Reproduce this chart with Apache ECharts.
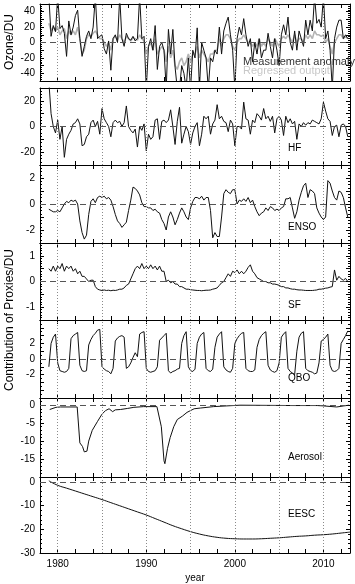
<!DOCTYPE html>
<html>
<head>
<meta charset="utf-8">
<script src="https://cdn.jsdelivr.net/npm/echarts@6/dist/echarts.min.js"></script>
<style>
html, body { margin: 0; padding: 0; background: #fff; }
#chart { width: 355px; height: 584px; }
</style>
</head>
<body>
<div id="chart"></div>
<script>
// quarterly samples, first one at 1979.0
var startYear = 1979;
var step = 0.25;

var ozoneMeasured = [
  60, 8, 22, 14,      // 1979
  60, 18, 22, 12,     // 1980
  -18, 28, 10, 20,    // 1981
  35, 42, 5, -18,     // 1982
  -5, 8, 15, 5,       // 1983
  20, 60, 5, 8,       // 1984
  10, -8, -15, 2,     // 1985
  -36, 5, 10, 0,      // 1986
  60, 5, -5, 12,      // 1987
  5, 3, 8, 2,         // 1988
  5, 60, 5, 8,        // 1989
  -60, -5, 5, -10,    // 1990
  22, -35, -5, 0,     // 1991
  -10, -60, 17, -15,  // 1992
  17, -32, -60, -60,  // 1993
  -30, -40, -60, -20, // 1994
  -60, -10, -20, 19,  // 1995
  -60, 0, -10, -20,   // 1996
  -60, -20, -25, -10, // 1997
  -15, 20, -15, 15,   // 1998
  25, 33, 10, -10,    // 1999
  -60, 5, 20, 10,     // 2000
  31, 10, -5, 5,      // 2001
  -25, 0, -15, 5,     // 2002
  -20, -10, -10, 12,  // 2003
  -5, -20, 5, -10,    // 2004
  -30, 10, 23, 10,    // 2005
  33, 0, -10, 15,     // 2006
  -10, 15, 5, -5,     // 2007
  29, 10, 29, 15,     // 2008
  60, 25, 30, 20,     // 2009
  60, 5, 15, -10,     // 2010
  -60, 5, 20, 29,     // 2011
  29, 5, 10, 5        // 2012
];
var ozoneRegressed = [
  25, 15, 20, 15,
  20, 10, 15, 18,
  5, 15, 10, 15,
  10, 20, 5, -15,
  -10, 5, 10, 8,
  12, 15, 10, 5,
  5, 0, -5, 0,
  -10, 5, 8, 3,
  10, 5, 0, 8,
  5, 2, 6, 5,
  3, 10, 5, 2,
  -15, -5, 0, -10,
  5, -15, -10, -5,
  -10, -25, -5, -20,
  -10, -30, -35, -25,
  -20, -30, -25, -15,
  -25, -15, -15, -5,
  -20, -10, -15, -20,
  -25, -15, -15, -10,
  -10, 5, -5, 5,
  10, 10, 5, -5,
  -10, 0, 5, 5,
  10, 5, 0, 0,
  -5, 0, -5, 5,
  -5, 0, -5, 5,
  0, -5, 5, 0,
  -5, 5, 8, 5,
  10, 5, 0, 10,
  0, 5, 5, 0,
  10, 5, 10, 5,
  15, 10, 10, 8,
  10, 0, 5, -5,
  -15, 0, 5, 10,
  10, 5, 8, 5
];
var hf = [
  35, 10, 0, -5,
  5, -10, 0, -24,
  -10, -6, -3, 2,
  3, 6, 2, -15,
  -14, -8, -6, 3,
  5, 0, 4, -6,
  14, 6, 3, 0,
  -8, 3, 5, 3,
  4, 0, 3, 16,
  0, -3, -5, -2,
  -16, 0, -3, 2,
  -19, -6, -10, -8,
  5, 6, -10, 4,
  5, 3, 5, 13,
  0, -14, 4, 15,
  -13, -6, 0, -4,
  -14, -5, 0, 3,
  -15, -6, 8, 6,
  8, -6, 2, 5,
  17, 6, 8, 4,
  3, -4, 5, 2,
  -15, 0, 0, -2,
  19, 6, 5, -6,
  5, 3, 10, 8,
  5, 14, 6, 8,
  4, 8, -5, 6,
  8, 5, -7, 8,
  3, 6, 2, 4,
  -10, 2, 0, 3,
  1, 3, 2, 5,
  4, 3, 2, 6,
  19, 12, 6, 4,
  -7, 0, 1, -8,
  1, 2, 0, -8
];
var enso = [
  -0.4, -0.5, -0.6, -0.6,
  -0.5, -0.6, -0.3, 0.0,
  0.2, 0.1, 0.3, 0.2,
  0.3, 0.0, -1.3, -2.2,
  -2.7, -2.4, -0.8, 0.2,
  0.4, 0.1, 0.5, 0.6,
  0.5, 0.6, 0.4, 0.5,
  0.3, -0.2, -0.8, -1.3,
  -1.5, -1.8, -1.6, -1.4,
  -0.5, 0.3, 1.3, 1.2,
  1.0, 0.7, 0.1, -0.2,
  -0.2, -0.3, -0.3, -0.5,
  -0.4, -0.6, -0.7, -1.2,
  -1.5, -2.0, -1.0, -0.6,
  -1.0, -1.6, -1.2, -0.7,
  -0.3, -0.6, -1.0, -1.2,
  -0.3, 0.2, 0.5, 0.5,
  0.4, 0.6, 0.3, 0.5,
  0.5, -0.5, -2.6, -2.2,
  -2.5, -2.5, -1.0, 0.8,
  1.1, 0.9, 0.8, 1.1,
  1.1, 0.0, 0.3, 0.2,
  0.4, 0.2, 0.5, 0.1,
  0.3, -0.2, -0.6, -0.9,
  -0.7, -0.6, -0.3, -0.5,
  -0.2, -0.3, -0.5, -0.4,
  -0.5, -0.3, -0.2, 0.4,
  0.4, 0.5, -0.3, -1.1,
  -0.6, 0.3, 0.9, 1.4,
  1.6, 0.5, 1.1, 1.0,
  0.8, -0.3, -0.7, -1.0,
  -1.2, -1.0, 1.8, 1.6,
  1.0, 0.5, 0.3, 1.0,
  0.9, 0.5, -0.3, -1.0
];
var sf = [
  0.5, 0.4, 0.6, 0.4,
  0.6, 0.5, 0.7, 0.4,
  0.6, 0.5, 0.6, 0.4,
  0.5, 0.3, 0.4, 0.2,
  0.2, 0.1, 0.0, 0.05,
  0.05, -0.2, -0.3, -0.33,
  -0.35, -0.33, -0.35, -0.34,
  -0.36, -0.34, -0.35, -0.33,
  -0.3, -0.3, -0.25, -0.15,
  -0.1, 0.1, 0.3, 0.5,
  0.6, 0.5, 0.7, 0.5,
  0.6, 0.5, 0.65, 0.5,
  0.6, 0.45, 0.6, 0.4,
  0.4, 0.0, 0.05, -0.05,
  0.0, -0.1, -0.1, -0.2,
  -0.2, -0.25, -0.3, -0.3,
  -0.32, -0.33, -0.34, -0.35,
  -0.35, -0.36, -0.35, -0.34,
  -0.34, -0.33, -0.3, -0.28,
  -0.25, -0.15, -0.05, 0.0,
  0.15, 0.3, 0.2, 0.4,
  0.35, 0.45, 0.3, 0.4,
  0.3, 0.4, 0.55, 0.65,
  0.4, 0.3, 0.15, 0.1,
  0.05, 0.0, 0.0, -0.05,
  -0.05, -0.1, -0.1, -0.12,
  -0.15, -0.2, -0.2, -0.25,
  -0.25, -0.28, -0.3, -0.3,
  -0.32, -0.33, -0.33, -0.34,
  -0.35, -0.35, -0.35, -0.35,
  -0.34, -0.33, -0.3, -0.3,
  -0.28, -0.26, -0.25, -0.22,
  -0.2, 0.45, 0.05, 0.2,
  0.1, 0.05, 0.12, 0.0
];
var qbo = [
  -1.0, 2.0, 2.8, 3.2,
  -0.5, -1.5, -1.6, -1.7,
  -1.6, -1.2, 2.6, 3.0,
  3.2, 3.4, -0.8, -1.5,
  -1.6, -1.5, 1.8, 2.5,
  3.0, 3.3, 3.7, 3.8,
  -1.0, -1.3, -1.5, -1.6,
  -1.9, -1.2, 2.3, 2.7,
  2.9, 3.0, 2.8, -1.2,
  -1.0, -0.5, 0.2, 0.8,
  0.3, 3.2, 3.4, 3.5,
  -1.2, -1.6, -1.7, -1.6,
  -1.5, -1.0, 2.4, 2.7,
  3.0, 3.3, -1.5, -1.8,
  -1.6, -1.5, -1.3, -1.2,
  2.0, 3.0, 3.5, -1.0,
  -1.5, -1.6, -1.3, 2.0,
  2.8, 3.2, 3.4, -1.2,
  -1.5, -1.6, -1.3, 1.5,
  2.8, 3.2, 3.5, -1.0,
  -1.4, -1.6, -1.7, -1.2,
  2.0, 2.6, 3.0, 3.3,
  3.4, -1.2, -1.5, -1.6,
  -1.6, -1.4, 1.5, 2.5,
  3.0, 3.3, 3.5, -0.8,
  -1.4, -1.6, -1.7, -1.5,
  -0.5, 2.8, 3.2, 3.5,
  -1.2, -1.6, -1.8, -2.0,
  1.0, 2.8, 3.3, 3.5,
  -1.2, -1.5, -1.6, -1.7,
  -1.9, -1.8, -0.5, 2.3,
  2.5, 2.8, 3.2, -0.8,
  -1.5, -1.6, -1.5, -1.2,
  2.0, 2.5, 3.0, 3.6
];
var aerosolYears = [1979.1, 1979.8, 1980.3, 1981.5, 1982.2, 1982.3, 1982.5, 1982.8, 1983.0, 1983.3, 1983.5, 1983.9,
  1984.5, 1985.0, 1985.4, 1985.8, 1986.2, 1986.5, 1987.1, 1987.9, 1988.6, 1989.7, 1991.2, 1991.4, 1991.7,
  1992.0, 1992.1, 1992.4, 1992.7, 1993.1, 1993.5, 1994.1, 1994.6, 1995.4, 1996.1, 1997.6, 1999.1, 2000.6,
  2003.6, 2006.5, 2009.3, 2010.0, 2011.5, 2012.3, 2012.9];
var aerosol = [-1.2, -0.6, -0.5, -0.5, -0.5, -0.6, -10.5, -11.5, -13, -12.8, -10, -7,
  -4.5, -2.5, -1.5, -1.0, -1.8, -1.3, -1.2, -0.9, -0.6, -0.4, -0.4, -0.5, -6,
  -15.5, -16.3, -12, -9, -6, -4, -3, -2, -1.0, -0.8, -0.4, -0.2, 0,
  -0.05, -0.1, -0.1, -0.2, -0.5, -0.2, 0];
var eescYears = [1979, 1980, 1981, 1982, 1983, 1984, 1985, 1986, 1987, 1988, 1989, 1990, 1991, 1992, 1993,
  1994, 1995, 1996, 1997, 1998, 1999, 2000, 2001, 2002, 2003, 2004, 2005, 2006, 2007, 2008, 2009,
  2010, 2011, 2012, 2013];
var eesc = [0.4, -1.5, -2.7, -3.9, -5.1, -6.3, -7.5, -8.8, -10.1, -11.4, -12.7, -14.0, -15.5, -17.0, -18.5,
  -19.8, -21.0, -22.0, -22.8, -23.4, -23.8, -24.0, -24.1, -24.1, -24.0, -23.8, -23.6, -23.3, -23.0, -22.8, -22.5,
  -22.3, -22.0, -21.6, -21.2];

var xTickLabels = [1980, 1990, 2000, 2010];
var gridYears = [1980, 1985, 1990, 1995, 2000, 2005, 2010];

function quarterly(values) {
  return values.map(function (v, i) { return [startYear + i * step, v]; });
}
function paired(years, values) {
  return values.map(function (v, i) { return [years[i], v]; });
}

var font = 'Liberation Sans, Arial, sans-serif';

var panels = [
  { top: 4, height: 77, min: -50, max: 50, interval: 10, minor: 4, labels: [40, 20, 0, -20, -40],
    lines: [
      { data: quarterly(ozoneMeasured), color: '#111', width: 1 },
      { data: quarterly(ozoneRegressed), color: '#b4b4b4', width: 1.6 }
    ] },
  { top: 88, height: 77, min: -30, max: 30, interval: 10, minor: 4, labels: [20, 0, -20],
    lines: [{ data: quarterly(hf), color: '#111', width: 1 }] },
  { top: 165, height: 78, min: -3, max: 3, interval: 1, minor: 4, labels: [2, 0, -2],
    lines: [{ data: quarterly(enso), color: '#111', width: 1 }] },
  { top: 243, height: 77, min: -1.5, max: 1.5, interval: 0.5, minor: 5, labels: [1, 0, -1],
    lines: [{ data: quarterly(sf), color: '#111', width: 1 }] },
  { top: 320, height: 78, min: -5, max: 5, interval: 1, minor: 2, labels: [2, 0, -2],
    lines: [{ data: quarterly(qbo), color: '#111', width: 1 }] },
  { top: 398, height: 79, min: -20, max: 2, interval: 5, minor: 5, labels: [0, -5, -10, -15],
    lines: [{ data: paired(aerosolYears, aerosol), color: '#111', width: 1 }] },
  { top: 477, height: 77, min: -30, max: 2, interval: 10, minor: 5, labels: [0, -10, -20, -30],
    lines: [{ data: paired(eescYears, eesc), color: '#111', width: 1, smooth: true }] }
];

var grids = [], xAxes = [], yAxes = [], series = [];

panels.forEach(function (p, i) {
  var last = i === panels.length - 1;
  grids.push({ left: 40, right: 5, top: p.top, height: p.height });

  ['bottom', 'top'].forEach(function (pos) {
    xAxes.push({
      type: 'value', gridIndex: i, position: pos, min: 1978, max: 2013, interval: 2,
      axisLine: { show: true, onZero: false, lineStyle: { color: '#000', width: 1 } },
      axisTick: { show: true, inside: true, length: 4, lineStyle: { color: '#000' } },
      minorTick: { show: false },
      splitLine: { show: false },
      axisLabel: {
        show: last && pos === 'bottom', color: '#000', fontSize: 10, fontFamily: font, margin: 6,
        formatter: function (v) { return xTickLabels.indexOf(v) >= 0 ? String(v) : ''; }
      },
      name: last && pos === 'bottom' ? 'year' : '',
      nameLocation: 'middle', nameGap: 20,
      nameTextStyle: { color: '#000', fontSize: 10, fontFamily: font }
    });
  });

  ['left', 'right'].forEach(function (pos) {
    yAxes.push({
      type: 'value', gridIndex: i, position: pos, min: p.min, max: p.max, interval: p.interval,
      axisLine: { show: true, onZero: false, lineStyle: { color: '#000', width: 1 } },
      axisTick: { show: true, inside: true, length: 4, lineStyle: { color: '#000' } },
      minorTick: { show: true, splitNumber: p.minor, length: 2, lineStyle: { color: '#000' } },
      splitLine: { show: false },
      axisLabel: {
        show: pos === 'left', color: '#000', fontSize: 10, fontFamily: font, margin: 5,
        formatter: function (v) { return p.labels.indexOf(v) >= 0 ? String(v) : ''; }
      }
    });
  });

  p.lines.forEach(function (l, k) {
    var s = {
      type: 'line', xAxisIndex: 2 * i, yAxisIndex: 2 * i, data: l.data,
      showSymbol: false, symbol: 'none', smooth: !!l.smooth, clip: true, animation: false,
      lineStyle: { color: l.color, width: l.width }, z: 3 - k
    };
    if (k === 0) {
      // dotted 5-year lines and dashed zero line
      var marks = gridYears.map(function (y) {
        return { xAxis: y, lineStyle: { type: [1, 2], color: '#8a8a8a', width: 1 } };
      });
      marks.push({ yAxis: 0, lineStyle: { type: [6, 4], color: '#555', width: 1 } });
      s.markLine = { silent: true, symbol: ['none', 'none'], label: { show: false }, animation: false, data: marks };
    }
    series.push(s);
  });
});

var panelNames = [
  { text: 'HF', y: 148 }, { text: 'ENSO', y: 227 }, { text: 'SF', y: 305 },
  { text: 'QBO', y: 378 }, { text: 'Aerosol', y: 457 }, { text: 'EESC', y: 514 }
];
var graphics = panelNames.map(function (n) {
  return { type: 'text', x: 288, y: n.y, style: { text: n.text, fill: '#000', font: '10px ' + font, textVerticalAlign: 'middle' } };
});
graphics.push(
  { type: 'text', x: 243, y: 62, z: 10, style: { text: 'Measurement anomaly', fill: '#333', font: '11px ' + font, textVerticalAlign: 'middle' } },
  { type: 'text', x: 243, y: 71, z: 10, style: { text: 'Regressed output', fill: '#c8c8c8', font: '11px ' + font, textVerticalAlign: 'middle' } },
  { type: 'text', x: 10, y: 42, rotation: Math.PI / 2, style: { text: 'Ozone/DU', fill: '#000', font: '12px ' + font, textAlign: 'center', textVerticalAlign: 'middle' } },
  { type: 'text', x: 10, y: 320, rotation: Math.PI / 2, style: { text: 'Contribution of Proxies/DU', fill: '#000', font: '12px ' + font, textAlign: 'center', textVerticalAlign: 'middle' } }
);

var chart = echarts.init(document.getElementById('chart'));
chart.setOption({
  animation: false,
  backgroundColor: '#fff',
  grid: grids,
  xAxis: xAxes,
  yAxis: yAxes,
  series: series,
  graphic: graphics
});
</script>
</body>
</html>
